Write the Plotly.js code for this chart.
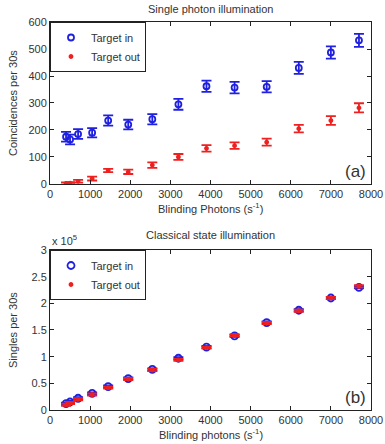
<!DOCTYPE html>
<html>
<head>
<meta charset="utf-8">
<script src="https://cdn.plot.ly/plotly-3.0.1.min.js"></script>
<style>html,body{margin:0;padding:0;background:#fff;}#chart{width:385px;height:444px;}</style>
</head>
<body>
<div id="chart"></div>
<script>
// Blinding photons (s^-1)
const photons = [400, 500, 700, 1050, 1450, 1950, 2550, 3200, 3900, 4600, 5400, 6200, 7000, 7700];

// (a) Single photon illumination: coincidences per 30 s
const coincIn     = [175, 165, 185, 190, 235, 220, 240, 295, 362, 357, 360, 430, 487, 532];
const coincInErr  = [18, 18, 18, 17, 19, 18, 19, 20, 21, 21, 21, 22, 23, 24];
const coincOut    = [2, 3, 10, 20, 50, 45, 70, 100, 132, 142, 155, 205, 235, 282];
const coincOutErr = [4, 4, 5, 7, 6, 8, 10, 11, 12, 12, 13, 14, 16, 17];

// (b) Classical state illumination: singles per 30 s (units of 10^5)
const singlesIn     = [0.12, 0.15, 0.22, 0.31, 0.44, 0.59, 0.76, 0.97, 1.18, 1.39, 1.64, 1.87, 2.10, 2.30];
const singlesInErr  = [0.02, 0.02, 0.02, 0.02, 0.02, 0.02, 0.02, 0.02, 0.02, 0.02, 0.02, 0.02, 0.02, 0.02];
const singlesOut    = [0.10, 0.13, 0.20, 0.29, 0.42, 0.58, 0.75, 0.94, 1.17, 1.40, 1.63, 1.86, 2.10, 2.32];
const singlesOutErr = [0.02, 0.02, 0.02, 0.02, 0.02, 0.02, 0.02, 0.02, 0.02, 0.02, 0.02, 0.02, 0.02, 0.02];

const xTicks = [0, 1000, 2000, 3000, 4000, 5000, 6000, 7000, 8000];
const yTicksA = [0, 100, 200, 300, 400, 500, 600];
const yTicksB = [0, 0.5, 1, 1.5, 2, 2.5, 3];

const BLUE = '#2020e0', RED = '#ee2020';
const font = {family: 'Liberation Sans, Arial, sans-serif', size: 11, color: '#333'};

function errTrace(x, y, e, color, name, xa, ya, sym, size, legend) {
  return {
    x: x, y: y, type: 'scatter', mode: 'markers', name: name,
    xaxis: xa, yaxis: ya, legend: legend, showlegend: true,
    marker: {symbol: sym, size: size, color: color, line: {color: color, width: 1.8}},
    error_y: {type: 'data', array: e, visible: true, color: color, thickness: 1.8, width: 5}
  };
}

const data = [
  errTrace(photons, coincIn, coincInErr, BLUE, 'Target in', 'x', 'y', 'circle-open', 6, 'legend'),
  errTrace(photons, coincOut, coincOutErr, RED, 'Target out', 'x', 'y', 'circle', 3, 'legend'),
  errTrace(photons, singlesIn, singlesInErr, BLUE, 'Target in', 'x2', 'y2', 'circle-open', 7, 'legend2'),
  errTrace(photons, singlesOut, singlesOutErr, RED, 'Target out', 'x2', 'y2', 'circle', 3, 'legend2')
];

function xax(anchor) {
  return {anchor: anchor, range: [0, 8000], tickvals: xTicks, ticktext: xTicks.map(String),
    ticks: 'inside', ticklen: 4, tickcolor: '#222', showline: true, linecolor: '#222', linewidth: 1,
    mirror: 'ticks', showgrid: false, zeroline: false, tickfont: font};
}
function yax(anchor, domain, range, ticks) {
  return {anchor: anchor, domain: domain, range: range, tickvals: ticks, ticktext: ticks.map(String),
    ticks: 'inside', ticklen: 4, tickcolor: '#222', showline: true, linecolor: '#222', linewidth: 1,
    mirror: 'ticks', showgrid: false, zeroline: false, tickfont: font};
}

const legendStyle = {
  bgcolor: '#fff', bordercolor: '#222', borderwidth: 1, font: font,
  xanchor: 'left', yanchor: 'top', itemsizing: 'trace', tracegroupgap: 0, itemwidth: 30
};

function ann(text, x, y, extra) {
  return Object.assign({text: text, xref: 'paper', yref: 'paper', x: x, y: y,
    xanchor: 'center', yanchor: 'middle', showarrow: false, font: font}, extra || {});
}

const TOPB = 0.5825, BOTT = 0.4124;

const layout = {
  width: 385, height: 444,
  margin: {l: 50, r: 14, t: 22, b: 34},
  paper_bgcolor: '#fff', plot_bgcolor: '#fff',
  font: font,
  xaxis: xax('y'),
  yaxis: yax('x', [TOPB, 1], [0, 600], yTicksA),
  xaxis2: xax('y2'),
  yaxis2: yax('x2', [0, BOTT], [0, 3], yTicksB),
  legend: Object.assign({x: 0.0, y: 1.0}, legendStyle),
  legend2: Object.assign({x: 0.0, y: BOTT}, legendStyle),
  annotations: [
    ann('Single photon illumination', 0.5, 1.0, {yshift: 13}),
    ann('Blinding Photons (s<sup>-1</sup>)', 0.5, TOPB, {yshift: -24}),
    ann('Coincidences per 30s', 0, (1 + TOPB) / 2, {xshift: -37, textangle: -90}),
    ann('(a)', 0.99, TOPB, {xanchor: 'right', yanchor: 'bottom', yshift: 1, font: {family: font.family, size: 17, color: '#333'}}),
    ann('Classical state illumination', 0.5, BOTT, {yshift: 15}),
    ann('Blinding photons (s<sup>-1</sup>)', 0.5, 0, {yshift: -24}),
    ann('Singles per 30s', 0, BOTT / 2, {xshift: -37, textangle: -90}),
    ann('x 10<sup>5</sup>', 0, BOTT, {xanchor: 'left', yanchor: 'bottom', yshift: 1}),
    ann('(b)', 0.99, 0, {xanchor: 'right', yanchor: 'bottom', yshift: 1, font: {family: font.family, size: 17, color: '#333'}})
  ]
};

Plotly.newPlot('chart', data, layout, {staticPlot: true, displayModeBar: false});
</script>
</body>
</html>
